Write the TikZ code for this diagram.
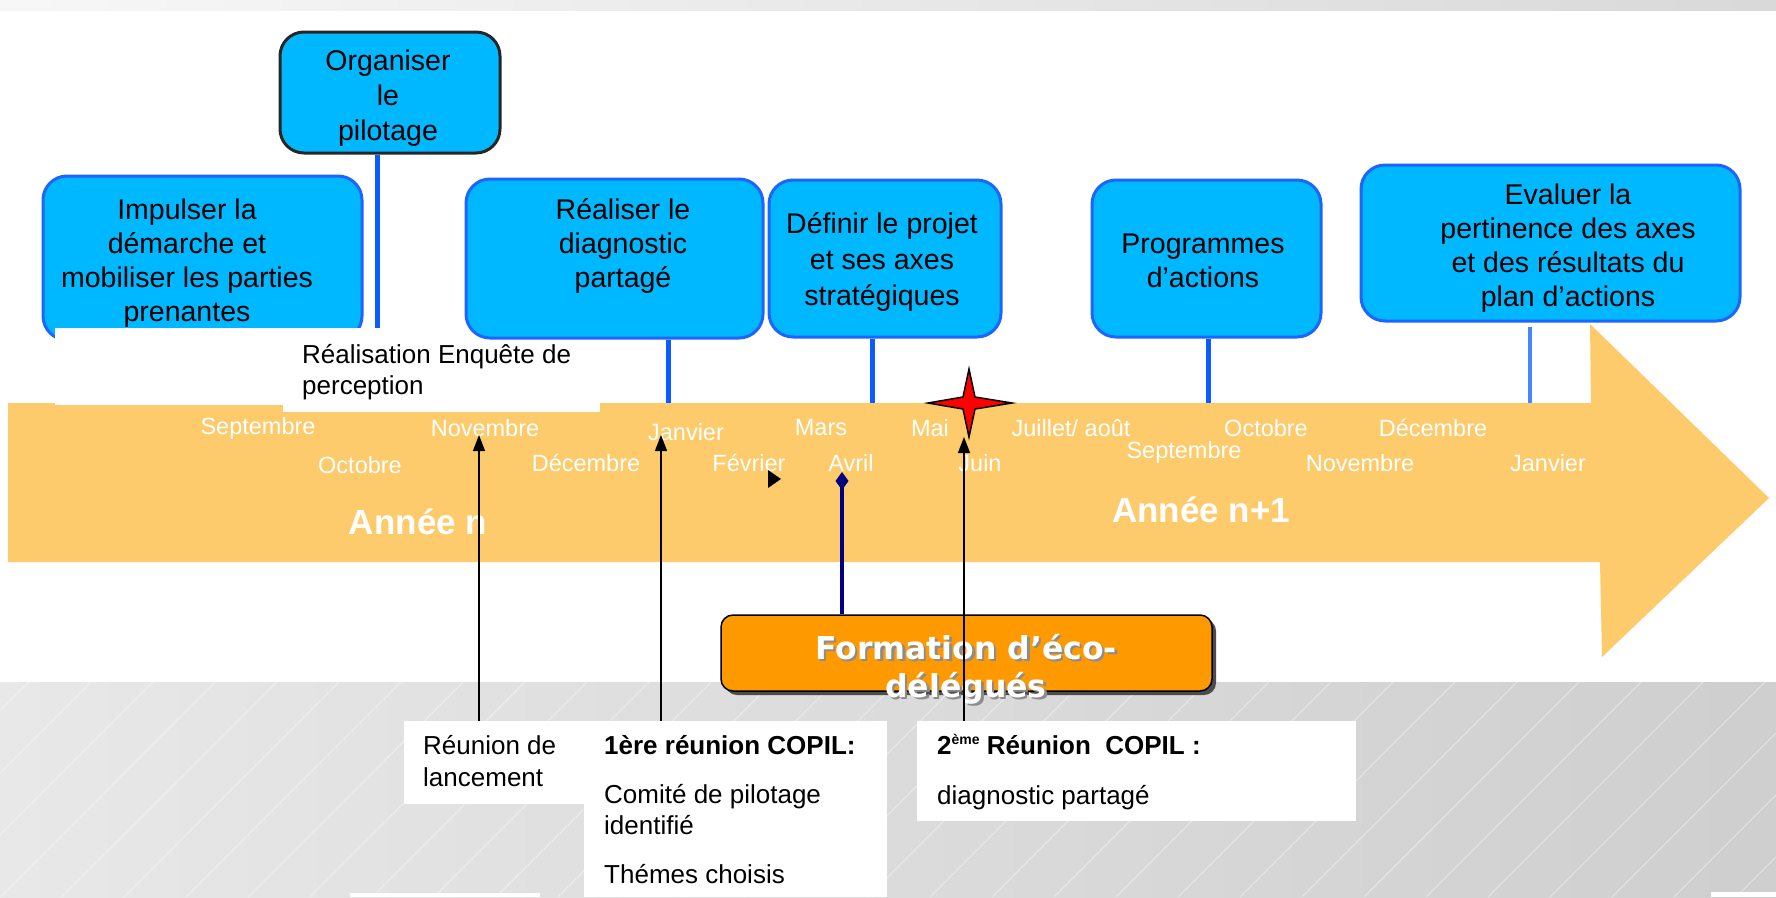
\documentclass[tikz,border=0pt]{standalone}
\usepackage{fontspec}
\setmainfont{Liberation Sans}
\newfontfamily\dvb{DejaVu Sans}
\usetikzlibrary{arrows.meta}
\definecolor{bandc}{HTML}{FDCB6B}
\definecolor{boxfill}{HTML}{00B8FF}
\definecolor{boxline}{HTML}{1E64FF}
\definecolor{connc}{HTML}{0A5CFF}
\definecolor{formc}{HTML}{FF9900}
\definecolor{navyc}{HTML}{000080}
\tikzset{
  phase/.style={draw=boxline, line width=3pt, fill=boxfill, rounded corners=24pt, inner sep=0pt},
  phasetxt/.style={font=\fontsize{28.5}{34}\selectfont, align=center, inner sep=0pt, text=black},
  month/.style={font=\fontsize{23.5}{28}\selectfont, text=white, inner sep=0pt},
  yearlbl/.style={font=\bfseries\fontsize{35}{40}\selectfont, text=white, inner sep=0pt},
  stem/.style={draw=connc, line width=5pt},
  note/.style={font=\fontsize{26}{31}\selectfont, inner sep=0pt, anchor=west, text=black, text height=19pt, text depth=6pt},
  notebold/.style={note, font=\bfseries\fontsize{26}{31}\selectfont},
  notebox/.style={fill=white, inner sep=0pt, anchor=north west},
  pointer/.style={draw=black, line width=1.3pt, -{Triangle[length=16pt,width=12pt]}},
}
\begin{document}
\begin{tikzpicture}[x=1pt,y=-1pt]
\useasboundingbox (0,0) rectangle (1776,897);
\fill[white] (0,0) rectangle (1776,897);
% top strip
\shade[left color=black!3, right color=black!15] (0,0) rectangle (1776,10);
% bottom grey area
\shade[left color=black!9, right color=black!19] (0,682) rectangle (1776,897);
\begin{scope}
  \clip (0,682) rectangle (1776,897);
  \foreach \i in {-4,...,30}
    \draw[white, opacity=0.45, line width=0.8pt] (\i*62,897) -- ++(215,-215);
\end{scope}
\fill[white] (350,893) rectangle (540,897);
\fill[white] (1711,892) rectangle (1776,897);

% timeline arrow band
\fill[bandc] (8,403) -- (1591,403) -- (1590,324) -- (1769,498) -- (1602,657) -- (1600,562) -- (8,562) -- cycle;

% phase boxes
\node[phase, minimum width=319, minimum height=164] (impulser) at (202.5,258) {};
\node[phasetxt] (impulsertxt) at (187,263) {Impulser la\\démarche et\\mobiliser les parties\\prenantes};

% white boxes above the band
\node[notebox, minimum width=228, minimum height=77] (leftwhite) at (55,328) {};
\node[notebox, minimum width=317, minimum height=84] (enqbox) at (283,328) {};
\node[note] (enq1) at (302,357) {Réalisation Enquête de};
\node[note] (enq2) at (302,388) {perception};

\node[phase, draw=black!85, minimum width=220, minimum height=121] (organiser) at (390,92.5) {};
\node[phasetxt, font=\fontsize{28.5}{35}\selectfont] (organisertxt) at (388,98) {Organiser\\le\\pilotage};

\node[phase, minimum width=297, minimum height=159] (realiser) at (614.5,258.5) {};
\node[phasetxt] (realisertxt) at (623,246) {Réaliser le\\diagnostic\\partagé};

\node[phase, minimum width=232, minimum height=157] (definir) at (885,258.5) {};
\node[phasetxt, font=\fontsize{28.5}{36}\selectfont] (definirtxt) at (882,262) {Définir le projet\\et ses axes\\stratégiques};

\node[phase, minimum width=229, minimum height=157] (programmes) at (1206.5,258.5) {};
\node[phasetxt] (programmestxt) at (1203,261) {Programmes\\d’actions};

\node[phase, minimum width=379, minimum height=156] (evaluer) at (1550.5,243) {};
\node[phasetxt] (evaluertxt) at (1568,248) {Evaluer la\\pertinence des axes\\et des résultats du\\plan d’actions};

% stems
\coordinate (orgend) at (377,328);
\coordinate (realend) at (668,403);
\coordinate (defend) at (872,403);
\coordinate (progend) at (1208,403);
\coordinate (evalstart) at (1530,327);
\coordinate (evalend) at (1530,403);
\draw[stem] (organiser.south -| orgend) -- (orgend);
\draw[stem] (realiser.south -| realend) -- (realend);
\draw[stem] (definir.south -| defend) -- (defend);
\draw[stem] (programmes.south -| progend) -- (progend);
\draw[stem, line width=3.5pt, draw=connc!75] (evalstart) -- (evalend);

% months
\node[month] (m1) at (258,428) {Septembre};
\node[month] (m2) at (360,465) {Octobre};
\node[month] (m3) at (485,428) {Novembre};
\node[month] (m4) at (586,463) {Décembre};
\node[month] (m5) at (686,432) {Janvier};
\node[month] (m6) at (749,463) {Février};
\node[month] (m7) at (821,428) {Mars};
\node[month] (m8) at (851,463) {Avril};
\node[month] (m9) at (930,428) {Mai};
\node[month] (m10) at (980,463) {Juin};
\node[month] (m11) at (1071,428) {Juillet/ août};
\node[month] (m12) at (1184,452) {Septembre};
\node[month] (m13) at (1266,428) {Octobre};
\node[month] (m14) at (1360,463) {Novembre};
\node[month] (m15) at (1433,428) {Décembre};
\node[month] (m16) at (1548,463) {Janvier};
\node[yearlbl] (an1) at (418,522) {Année n};
\node[yearlbl] (an2) at (1201,510) {Année n+1};

% small black triangle
\fill[black] (768,470) -- (781,479) -- (768,488) -- cycle;

% star
\draw[fill=red, line width=1.5pt, line join=miter] (969,369) -- (975,397) -- (1012,403) -- (975,409) -- (969,437) -- (963,409) -- (928,403) -- (963,397) -- cycle;

% formation box
\fill[black!70, rounded corners=12pt] (725,619) rectangle (1216,695);
\node[draw=black, line width=1.5pt, fill=formc, rounded corners=12pt, minimum width=491, minimum height=76, inner sep=0pt] (formation) at (966.5,653) {};
\node[font=\dvb\bfseries\fontsize{31.5}{38}\selectfont, text=black!45, align=center, inner sep=0pt] (formshadow) at (968.5,671.5) {Formation d’éco-\\délégués};
\node[font=\dvb\bfseries\fontsize{31.5}{38}\selectfont, text=white, align=center, inner sep=0pt] (formtxt) at (966,669) {Formation d’éco-\\délégués};

% navy link to Avril
\coordinate (avrilpt) at (842,472);
\draw[navyc, line width=4pt, -{Diamond[length=18pt,width=13pt]}] (formation.north -| avrilpt) -- (avrilpt);

% bottom note boxes
\node[notebox, minimum width=180, minimum height=83] (reunion) at (404,721) {};
\node[notebox, minimum width=303, minimum height=176] (copil1) at (584,721) {};
\node[notebox, minimum width=439, minimum height=100] (copil2) at (917,721) {};
\node[note] (r1) at (423,748) {Réunion de};
\node[note] (r2) at (423,780) {lancement};
\node[notebold] (c1a) at (604,748) {1ère réunion COPIL:};
\node[note] (c1b) at (604,797) {Comité de pilotage};
\node[note] (c1c) at (604,828) {identifié};
\node[note] (c1d) at (604,877) {Thémes choisis};
\node[notebold] (c2a) at (937,748) {2\raisebox{10pt}{\fontsize{14}{14}\selectfont ème} Réunion\ \ COPIL :};
\node[note] (c2b) at (937,798) {diagnostic partagé};

% pointers
\coordinate (tipnov) at (479,435);
\coordinate (tipjan) at (661,435);
\coordinate (tipjuin) at (964,437);
\draw[pointer] (reunion.north -| tipnov) -- (tipnov);
\draw[pointer] (copil1.north -| tipjan) -- (tipjan);
\draw[pointer] (copil2.north -| tipjuin) -- (tipjuin);
\end{tikzpicture}
\end{document}
